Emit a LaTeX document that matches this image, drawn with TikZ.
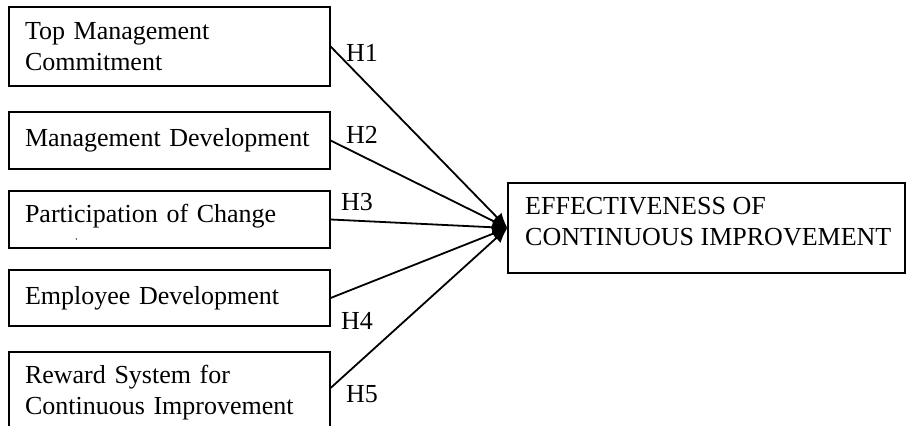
\documentclass[tikz,border=0pt]{standalone}
\usepackage{fontspec}
\setmainfont{Liberation Serif}
\usetikzlibrary{positioning,arrows.meta}

\begin{document}
\begin{tikzpicture}[x=1pt,y=1pt,
  factor/.style={draw=black, line width=1.2pt, text width=289pt, inner xsep=16pt,
    inner ysep=0pt, align=left, font=\fontsize{26}{31}\selectfont},
  hyp/.style={font=\fontsize{26}{31}\selectfont, inner sep=0pt},
  link/.style={black, line width=1.8pt, -{Latex[length=15pt,width=13pt]}}]
\useasboundingbox (0,0) rectangle (906,426);
% factors
\node[factor, minimum height=79pt] (tmc) at (169.5,379.5) {Top Management\\Commitment};
\node[factor, minimum height=57pt] (md) at (169.5,285.5) {Management Development};
\node[factor, minimum height=57pt, text depth=13pt] (pc) at (169.5,206.5) {Participation of Change};
\node[factor, minimum height=56pt] (ed) at (169.5,128) {Employee Development};
\node[factor, minimum height=82pt] (rs) at (169.5,33) {Reward System for\\Continuous Improvement};
\fill (pc.west) ++(68,-19.5) circle (0.7pt);
% outcome
\node[draw=black, line width=1.2pt, minimum width=397pt, minimum height=90pt] (eci) at (706.5,198) {};
\node[hyp, anchor=west, align=left] (ecitext) at (525,204.5) {EFFECTIVENESS OF\\CONTINUOUS IMPROVEMENT};
% hypotheses
\draw[link] (tmc.east) -- (eci.west);
\draw[link] (md.east) -- (eci.west);
\draw[link] (pc.east) -- (eci.west);
\draw[link] (ed.east) -- (eci.west);
\draw[link] ([yshift=5pt]rs.east) -- (eci.west);
\node[hyp] (h1) at (362,373.5) {H1};
\node[hyp] (h2) at (362,291.5) {H2};
\node[hyp] (h3) at (357,223.5) {H3};
\node[hyp] (h4) at (357,105) {H4};
\node[hyp] (h5) at (362,32) {H5};
\end{tikzpicture}
\end{document}
